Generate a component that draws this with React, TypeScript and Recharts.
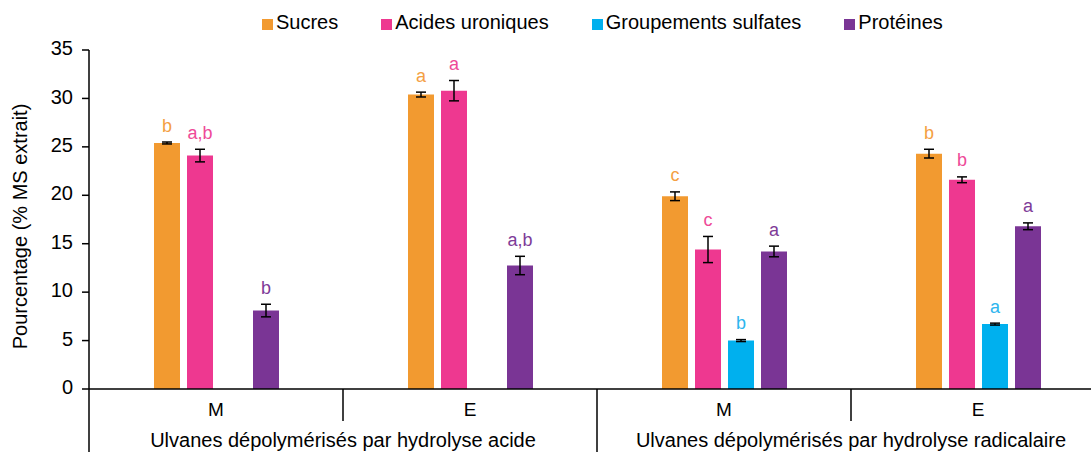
import React from 'react';
import { BarChart, Bar, XAxis, YAxis, Legend, ErrorBar, LabelList } from 'recharts';

// Composition (% MS extrait) of ulvan extracts, by depolymerisation process
const categories = ['M', 'E', 'M', 'E'];
const groups = [
  'Ulvanes dépolymérisés par hydrolyse acide',
  'Ulvanes dépolymérisés par hydrolyse acide',
  'Ulvanes dépolymérisés par hydrolyse radicalaire',
  'Ulvanes dépolymérisés par hydrolyse radicalaire',
];

const sucres = [25.4, 30.4, 19.9, 24.3];
const sucresErr = [0.1, 0.25, 0.45, 0.45];
const sucresLetters = ['b', 'a', 'c', 'b'];

const acides = [24.1, 30.8, 14.4, 21.6];
const acidesErr = [0.65, 1.05, 1.35, 0.3];
const acidesLetters = ['a,b', 'a', 'c', 'b'];

const sulfates = [null, null, 5.0, 6.7];
const sulfatesErr = [null, null, 0.1, 0.1];
const sulfatesLetters = [null, null, 'b', 'a'];

const proteines = [8.1, 12.75, 14.2, 16.8];
const proteinesErr = [0.65, 0.95, 0.55, 0.35];
const proteinesLetters = ['b', 'a,b', 'a', 'a'];

const yTicks = [0, 5, 10, 15, 20, 25, 30, 35];

const seriesNames = ['Sucres', 'Acides uroniques', 'Groupements sulfates', 'Protéines'];
const seriesColors = ['#F29A30', '#EE3890', '#00B0EE', '#7A3595'];
const letterColors = ['#F4A043', '#EE4A98', '#2DB5EE', '#7E3B98'];

const FONT = '"Liberation Sans", Arial, Helvetica, sans-serif';

const data = categories.map((c, i) => ({
  idx: i,
  cat: c,
  group: groups[i],
  sucres: sucres[i],
  sucresErr: sucresErr[i],
  acides: acides[i],
  acidesErr: acidesErr[i],
  sulfates: sulfates[i],
  sulfatesErr: sulfatesErr[i],
  proteines: proteines[i],
  proteinesErr: proteinesErr[i],
}));

// letter placed above the top of the error bar, using the bar's own px/unit ratio;
// the label value is the row index, so rows without a bar are skipped safely
const makeLetter = (values: (number | null)[], errs: (number | null)[], letters: (string | null)[], color: string) =>
  (props: any) => {
    const { x, y, width, height, value } = props;
    const row = Number(value);
    const v = values[row];
    const e = errs[row] ?? 0;
    const letter = letters[row];
    if (v == null || !letter || !height) return null;
    const pxPerUnit = height / v;
    const top = y - e * pxPerUnit;
    return (
      <text x={x + width / 2} y={top - 10.5} textAnchor="middle" fill={color}
        style={{ fontFamily: FONT, fontSize: 18 }}>
        {letter}
      </text>
    );
  };

const CategoryTick = (props: any) => {
  const { x, y, payload, index, width, visibleTicksCount } = props;
  const half = typeof payload?.offset === 'number' && payload.offset > 0
    ? payload.offset
    : width / visibleTicksCount / 2;
  const groupEnd = index % 2 === 1;
  return (
    <g>
      <text x={x} y={y + 27} textAnchor="middle" fill="#000" style={{ fontFamily: FONT, fontSize: 19 }}>
        {payload.value}
      </text>
      {index === 0 && <line x1={x - half} x2={x - half} y1={y} y2={y + 63} stroke="#000" strokeWidth={1.5} />}
      <line x1={x + half} x2={x + half} y1={y} y2={y + (groupEnd ? 63 : 32)} stroke="#000" strokeWidth={1.5} />
      {!groupEnd && (
        <text x={x + half} y={y + 57.5} textAnchor="middle" fill="#000" style={{ fontFamily: FONT, fontSize: 20 }}>
          {groups[index]}
        </text>
      )}
    </g>
  );
};

const LegendContent = () => (
  <div style={{ height: 50, display: 'flex', alignItems: 'flex-start', paddingTop: 11, boxSizing: 'border-box', fontFamily: FONT }}>
    {seriesNames.map((n, i) => (
      <div key={n} style={{ display: 'flex', alignItems: 'flex-end', marginRight: i < 3 ? 43 : 0 }}>
        <span style={{ width: 11, height: 11, background: seriesColors[i], display: 'inline-block', marginRight: 3, marginBottom: 4 }} />
        <span style={{ fontSize: 20, lineHeight: '23px', color: '#000', whiteSpace: 'nowrap' }}>{n}</span>
      </div>
    ))}
  </div>
);

const YLabel = (props: any) => {
  const { viewBox } = props;
  const cy = viewBox.y + viewBox.height / 2 + 7;
  const cx = 27;
  return (
    <text x={cx} y={cy} transform={`rotate(-90 ${cx} ${cy})`} textAnchor="middle" fill="#000"
      style={{ fontFamily: FONT, fontSize: 20 }}>
      Pourcentage (% MS extrait)
    </text>
  );
};

export default function App() {
  return (
    <div style={{ position: 'absolute', left: 0, top: 0, width: 1091, height: 452, overflow: 'hidden', background: '#fff' }}>
      <BarChart width={1110} height={452} data={data} barSize={26} barGap={7}
        margin={{ top: 0, right: 5, left: 0, bottom: 0 }}>
        <Legend verticalAlign="top" align="left" content={<LegendContent />}
          wrapperStyle={{ left: 262, top: 0, width: 'auto' }} />
        <XAxis dataKey="cat" height={63} tickLine={false} tickSize={0} tickMargin={0}
          axisLine={{ stroke: '#000', strokeWidth: 1.5 }} tick={<CategoryTick />} interval={0} />
        <YAxis width={89} domain={[0, 35]} ticks={yTicks} interval={0} tickSize={7} tickMargin={9}
          axisLine={{ stroke: '#000', strokeWidth: 1.5 }} tickLine={{ stroke: '#000', strokeWidth: 1.5 }}
          tick={{ fill: '#000', fontSize: 20, fontFamily: FONT, dy: -2 }}
          label={<YLabel />} />
        <Bar dataKey="sucres" name={seriesNames[0]} fill={seriesColors[0]} isAnimationActive={false}>
          <ErrorBar dataKey="sucresErr" width={5} stroke="#000" strokeWidth={1.5} />
          <LabelList dataKey="idx" content={makeLetter(sucres, sucresErr, sucresLetters, letterColors[0])} />
        </Bar>
        <Bar dataKey="acides" name={seriesNames[1]} fill={seriesColors[1]} isAnimationActive={false}>
          <ErrorBar dataKey="acidesErr" width={5} stroke="#000" strokeWidth={1.5} />
          <LabelList dataKey="idx" content={makeLetter(acides, acidesErr, acidesLetters, letterColors[1])} />
        </Bar>
        <Bar dataKey="sulfates" name={seriesNames[2]} fill={seriesColors[2]} isAnimationActive={false}>
          <ErrorBar dataKey="sulfatesErr" width={5} stroke="#000" strokeWidth={1.5} />
          <LabelList dataKey="idx" content={makeLetter(sulfates, sulfatesErr, sulfatesLetters, letterColors[2])} />
        </Bar>
        <Bar dataKey="proteines" name={seriesNames[3]} fill={seriesColors[3]} isAnimationActive={false}>
          <ErrorBar dataKey="proteinesErr" width={5} stroke="#000" strokeWidth={1.5} />
          <LabelList dataKey="idx" content={makeLetter(proteines, proteinesErr, proteinesLetters, letterColors[3])} />
        </Bar>
      </BarChart>
    </div>
  );
}
